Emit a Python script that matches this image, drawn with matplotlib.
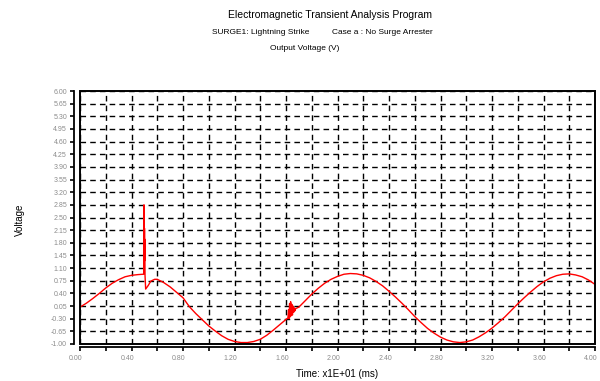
import matplotlib
matplotlib.use("Agg")
import matplotlib.pyplot as plt
import matplotlib.transforms as mtransforms
from matplotlib.patches import Rectangle

plt.rcParams['font.family'] = ['Liberation Sans', 'DejaVu Sans']

# ---- data ----
time_vals = [0.00, 0.05, 0.10, 0.15, 0.20, 0.25, 0.30, 0.35, 0.40, 0.45,
             0.490, 0.495, 0.497, 0.498, 0.499, 0.500, 0.501, 0.502, 0.503, 0.505,
             0.51, 0.53, 0.55, 0.58, 0.60, 0.65, 0.70, 0.75, 0.80, 0.85,
             0.90, 0.95, 1.00, 1.05, 1.10, 1.15, 1.20, 1.25, 1.30, 1.35,
             1.40, 1.45, 1.50, 1.55, 1.60,
             1.615, 1.620, 1.624, 1.628, 1.632, 1.636, 1.640, 1.645, 1.650,
             1.655, 1.660, 1.665, 1.670, 1.675,
             1.70, 1.75, 1.80, 1.85, 1.90, 1.95, 2.00, 2.05, 2.10, 2.15,
             2.20, 2.25, 2.30, 2.35, 2.40, 2.45, 2.50, 2.55, 2.60, 2.65,
             2.70, 2.75, 2.80, 2.85, 2.90, 2.95, 3.00, 3.05, 3.10, 3.15,
             3.20, 3.25, 3.30, 3.35, 3.40, 3.45, 3.50, 3.55, 3.60, 3.65,
             3.70, 3.75, 3.80, 3.85, 3.90, 3.95, 4.00]
voltage_vals = [0.02, 0.13, 0.26, 0.40, 0.55, 0.68, 0.78, 0.86, 0.90, 0.92,
                0.93, 0.93, 2.85, 1.00, 2.45, 1.60, 2.20, 1.30, 1.90, 0.90,
                0.52, 0.62, 0.74, 0.79, 0.79, 0.70, 0.58, 0.43, 0.28, 0.03,
                -0.16, -0.33, -0.50, -0.64, -0.77, -0.87, -0.93, -0.96, -0.96, -0.93,
                -0.87, -0.76, -0.62, -0.47, -0.32,
                -0.28, -0.05, -0.30, 0.12, -0.25, 0.17, -0.22, 0.10, -0.20,
                0.05, -0.12, 0.00, -0.08, -0.02,
                0.02, 0.20, 0.38, 0.54, 0.68, 0.79, 0.87, 0.93, 0.95, 0.94,
                0.90, 0.83, 0.73, 0.61, 0.46, 0.30, 0.13, -0.05, -0.24, -0.41,
                -0.57, -0.70, -0.81, -0.89, -0.94, -0.96, -0.94, -0.89, -0.80, -0.69,
                -0.56, -0.41, -0.25, -0.07, 0.11, 0.28, 0.44, 0.59, 0.72, 0.82,
                0.89, 0.93, 0.94, 0.91, 0.86, 0.77, 0.65]

y_ticks = [-1.00, -0.65, -0.30, 0.05, 0.40, 0.75, 1.10, 1.45, 1.80, 2.15, 2.50,
           2.85, 3.20, 3.55, 3.90, 4.25, 4.60, 4.95, 5.30, 5.65, 6.00]
x_major = [0.0, 0.4, 0.8, 1.2, 1.6, 2.0, 2.4, 2.8, 3.2, 3.6, 4.0]
x_minor = [0.2, 0.6, 1.0, 1.4, 1.8, 2.2, 2.6, 3.0, 3.4, 3.8]

title1 = "Electromagnetic Transient Analysis Program"
title2a = "SURGE1: Lightning Strike"
title2b = "Case a : No Surge Arrester"
title3 = "Output Voltage (V)"
xlabel = "Time: x1E+01 (ms)"
ylabel = "Voltage"

# ---- figure ----
fig = plt.figure(figsize=(6.0, 3.81), dpi=100)
ax = fig.add_axes([80/600, 37/381, 515/600, 253/381])

ax.set_xlim(0, 4)
ax.set_ylim(-1, 6)

# grid
for xv in x_major + x_minor:
    ax.axvline(xv, color='black', lw=1.0, ls=(0, (4, 3)), zorder=1)
for yv in y_ticks:
    ax.axhline(yv, color='black', lw=1.0, ls=(0, (4, 3)), zorder=1)

ax.plot(time_vals, voltage_vals, color='red', lw=1.0, zorder=3)

# spines
ax.spines['left'].set_position(('outward', 4.3))
ax.spines['bottom'].set_position(('outward', 2.2))
ax.spines['top'].set_visible(False)
ax.spines['right'].set_visible(False)
for s in ['left', 'bottom']:
    ax.spines[s].set_linewidth(1.3)
ax.add_patch(Rectangle((0, 0), 1, 1, transform=ax.transAxes, fill=False,
                       edgecolor='black', lw=1.4, zorder=5, clip_on=False))

ax.set_yticks(y_ticks)
ax.set_yticklabels([f"{v:.2f}" for v in y_ticks])
ax.set_xticks(x_major)
ax.set_xticklabels([f"{v:.2f}" for v in x_major])
ax.set_xticks(x_minor, minor=True)
ax.tick_params(axis='both', which='both', direction='out', length=3, width=1.2,
               colors='black', labelcolor='#8c8c8c', labelsize=5)
ax.tick_params(axis='y', pad=2)
ax.tick_params(axis='x', pad=2.5)

shift = mtransforms.ScaledTranslation(-4/100, 0, fig.dpi_scale_trans)
for lbl in ax.get_xticklabels():
    lbl.set_transform(lbl.get_transform() + shift)

fig.text(20/600, 1 - 220/381, ylabel, rotation=90, ha='center', va='center',
         fontsize=7, color='black')
fig.text(337/600, 1 - 374/381, xlabel, ha='center', va='center',
         fontsize=7, color='black')

fig.text(330/600, 1 - 15/381, title1, ha='center', va='center', fontsize=7.5)
fig.text(212/600, 1 - 33/381, title2a, ha='left', va='center', fontsize=6)
fig.text(332/600, 1 - 33/381, title2b, ha='left', va='center', fontsize=6)
fig.text(305/600, 1 - 49/381, title3, ha='center', va='center', fontsize=6)

fig.savefig("out.png", dpi=100)
